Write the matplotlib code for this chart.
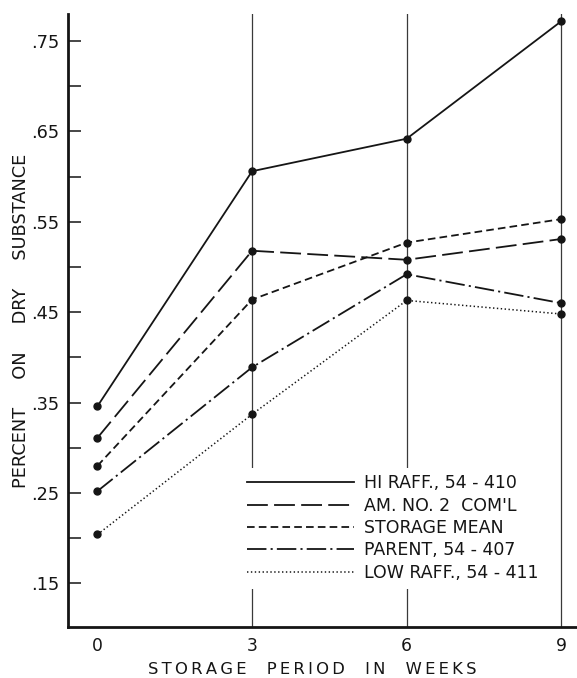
import matplotlib
matplotlib.use("Agg")
import matplotlib.pyplot as plt

# ---- data ----
weeks = [0, 3, 6, 9]
hi_raff = [0.346, 0.606, 0.642, 0.772]
am_no2 = [0.311, 0.518, 0.508, 0.531]
storage_mean = [0.280, 0.464, 0.527, 0.553]
parent = [0.252, 0.389, 0.492, 0.460]
low_raff = [0.204, 0.337, 0.463, 0.448]

series_labels = ["HI RAFF., 54 - 410", "AM. NO. 2  COM'L", "STORAGE MEAN",
                 "PARENT, 54 - 407", "LOW RAFF., 54 - 411"]
grid_weeks = [3, 6, 9]
x_ticks = [0, 3, 6, 9]
x_tick_labels = ["0", "3", "6", "9"]
y_major = [0.15, 0.25, 0.35, 0.45, 0.55, 0.65, 0.75]
y_major_labels = [".15", ".25", ".35", ".45", ".55", ".65", ".75"]
y_minor = [0.20, 0.30, 0.40, 0.50, 0.60, 0.70]
x_label = "STORAGE  PERIOD  IN  WEEKS"
y_label = "PERCENT     ON     DRY     SUBSTANCE"


def spaced(s, sp="\u2009"):
    return sp.join(list(s))


plt.rcParams['font.family'] = ['DejaVu Sans']
plt.rcParams['lines.scale_dashes'] = False

W, H = 577, 678
fig = plt.figure(figsize=(W / 100, H / 100), dpi=100)
fig.patch.set_facecolor("white")
ax_l, ax_b = 67.5, 51
ax = fig.add_axes([ax_l / W, ax_b / H, (W - ax_l) / W, 613 / H])

ink = "#151515"
lw = 1.3
ms = 5.0

styles = [
    dict(linestyle="-"),
    dict(dashes=(15, 4.5)),
    dict(dashes=(5.5, 3.0)),
    dict(dashes=(14, 3, 1.5, 3)),
    dict(dashes=(1.0, 1.8)),
]
data = [hi_raff, am_no2, storage_mean, parent, low_raff]

for vals, lab, st in zip(data, series_labels, styles):
    ax.plot(weeks, vals, color=ink, lw=lw if lab != series_labels[4] else 1.1,
            marker="o", markersize=ms, markerfacecolor=ink, markeredgecolor=ink,
            label=lab, zorder=3, **st)

for g in grid_weeks:
    ax.axvline(g, color="#3a3a3a", lw=0.9, zorder=1)

ax.set_xlim(-0.582, 9.305)
ax.set_ylim(0.1016, 0.780)

ax.spines['top'].set_visible(False)
ax.spines['right'].set_visible(False)
ax.spines['left'].set_linewidth(2.0)
ax.spines['bottom'].set_linewidth(2.0)
ax.spines['left'].set_color(ink)
ax.spines['bottom'].set_color(ink)

ax.set_xticks(x_ticks)
ax.set_xticklabels(x_tick_labels)
ax.tick_params(axis='x', length=0, pad=7, labelsize=12.3, labelcolor=ink)

ax.set_yticks(y_major)
ax.set_yticklabels(y_major_labels)
ax.set_yticks(y_minor, minor=True)
ax.tick_params(axis='y', which='both', direction='in', length=9.5, width=1.1,
               color=ink, pad=6.0, labelsize=12.8, labelcolor=ink)

ax.set_xlabel(spaced(x_label), fontsize=11.8, color=ink, va='center')
ax.xaxis.set_label_coords((312 - ax_l) / (W - ax_l), (627 - 670) / 613)
ax.set_ylabel(y_label, fontsize=12.8, color=ink, va='center')
ax.yaxis.set_label_coords((21 - ax_l) / (W - ax_l), (627 - 321) / 613)

leg = ax.legend(loc='upper left', bbox_to_anchor=(239.6 / W, (H - 467.5) / H),
                bbox_transform=fig.transFigure, frameon=True, fancybox=False,
                facecolor="white", edgecolor="none", framealpha=1.0,
                borderpad=0.4, borderaxespad=0, handlelength=6.2,
                handletextpad=0.55, labelspacing=0.25, fontsize=12.5)
for line in leg.get_lines():
    line.set_marker("")
for t in leg.get_texts():
    t.set_color(ink)
leg.set_zorder(5)

fig.savefig("out.png", dpi=100, facecolor="white")
